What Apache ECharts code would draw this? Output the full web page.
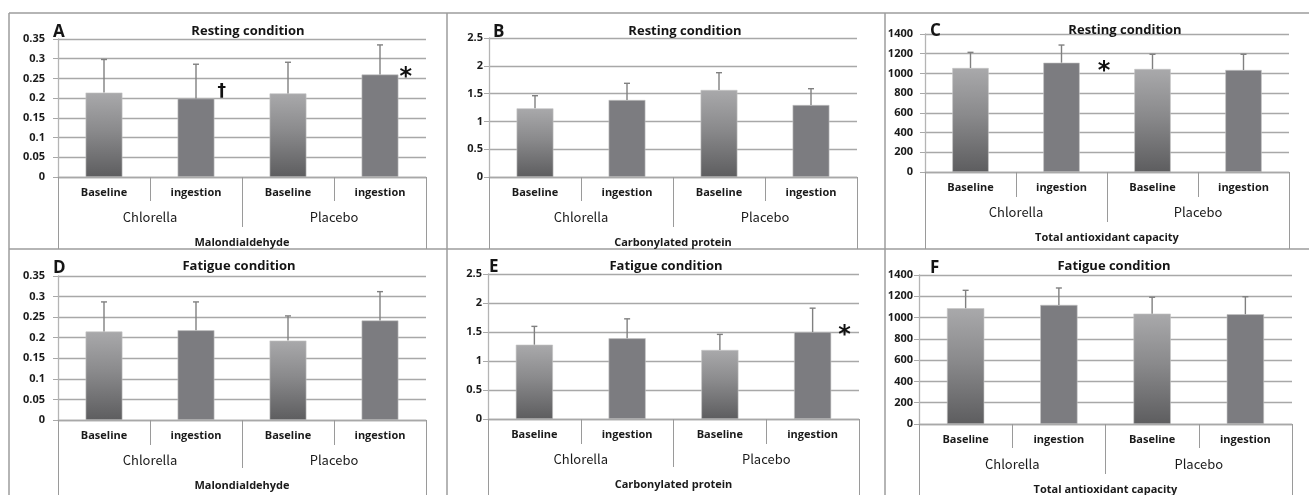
<!DOCTYPE html>
<html><head><meta charset="utf-8">
<script src="https://cdn.jsdelivr.net/npm/echarts@6/dist/echarts.min.js"></script>
<style>html,body{margin:0;padding:0;background:#fff}#c{width:1309px;height:495px}</style>
</head><body><div id="c"></div>
<script>
// ---------- data ----------
const categories = ['Baseline', 'ingestion', 'Baseline', 'ingestion'];
const groups = ['Chlorella', 'Placebo'];
const measures = ['Malondialdehyde', 'Carbonylated protein', 'Total antioxidant capacity'];
const conditions = ['Resting condition', 'Fatigue condition'];
const panelLetters = ['A', 'B', 'C', 'D', 'E', 'F'];

// Resting
const mdaRestMean = [0.214, 0.199, 0.212, 0.260];
const mdaRestSd   = [0.084, 0.087, 0.079, 0.075];
const mdaRestMarks = ['', '†', '', '*'];
const cpRestMean = [1.235, 1.385, 1.565, 1.295];
const cpRestSd   = [0.227, 0.300, 0.311, 0.293];
const cpRestMarks = ['', '', '', ''];
const tacRestMean = [1055, 1109, 1045, 1035];
const tacRestSd   = [159, 179, 149, 159];
const tacRestMarks = ['', '*', '', ''];
// Fatigue
const mdaFatMean = [0.215, 0.218, 0.193, 0.242];
const mdaFatSd   = [0.072, 0.069, 0.060, 0.070];
const mdaFatMarks = ['', '', '', ''];
const cpFatMean = [1.281, 1.391, 1.190, 1.499];
const cpFatSd   = [0.316, 0.336, 0.269, 0.412];
const cpFatMarks = ['', '', '', '*'];
const tacFatMean = [1088, 1119, 1037, 1031];
const tacFatSd   = [168, 159, 154, 165];
const tacFatMarks = ['', '', '', ''];

// y-axis ranges (tick settings)
const mdaAxis = {max: 0.35, step: 0.05};
const cpAxis  = {max: 2.5, step: 0.5};
const tacAxis = {max: 1400, step: 200};

// ---------- layout / styles ----------
const panels = [
  {mean: mdaRestMean, sd: mdaRestSd, marks: mdaRestMarks, m: 0, c: 0, ax: mdaAxis,
   grid: {left: 58, top: 39, width: 368, height: 138}, ticks: [24, 50, 72], ylm: 13,
   title: [248, 31], letter: [53, 32], markOff: [null, [3, -7], null, [1, 3]]},
  {mean: cpRestMean, sd: cpRestSd, marks: cpRestMarks, m: 1, c: 0, ax: cpAxis,
   grid: {left: 489, top: 38, width: 368, height: 139}, ticks: [24, 50, 72], ylm: 6,
   title: [685, 31], letter: [493, 32], markOff: [null, null, null, null]},
  {mean: tacRestMean, sd: tacRestSd, marks: tacRestMarks, m: 2, c: 0, ax: tacAxis,
   grid: {left: 925, top: 34, width: 364, height: 138}, ticks: [25, 50, 77], ylm: 12,
   title: [1125, 30], letter: [930, 31], markOff: [null, [18, 9], null, null]},
  {mean: mdaFatMean, sd: mdaFatSd, marks: mdaFatMarks, m: 0, c: 1, ax: mdaAxis,
   grid: {left: 58, top: 276, width: 368, height: 144}, ticks: [25, 48, 75], ylm: 13,
   title: [239, 266], letter: [53, 268], markOff: [null, null, null, null]},
  {mean: cpFatMean, sd: cpFatSd, marks: cpFatMarks, m: 1, c: 1, ax: cpAxis,
   grid: {left: 488, top: 274, width: 371, height: 145}, ticks: [25, 48, 76], ylm: 6,
   title: [666, 266], letter: [489, 267], markOff: [null, null, null, [7, 4]]},
  {mean: tacFatMean, sd: tacFatSd, marks: tacFatMarks, m: 2, c: 1, ax: tacAxis,
   grid: {left: 919, top: 275, width: 373, height: 149}, ticks: [24, 50, 71], ylm: 6,
   title: [1114, 266], letter: [930, 268], markOff: [null, null, null, null]}
];

const FONT = 'Open Sans';
const baselineFill = {type: 'linear', x: 0, y: 0, x2: 0, y2: 1,
  colorStops: [{offset: 0, color: '#a9a9ab'}, {offset: 0.45, color: '#8a8a8c'}, {offset: 1, color: '#5d5d5f'}]};
const ingestionFill = '#7c7c80';
const gridColor = '#a8a8a8';
const tickColor = '#9a9a9a';

const option = {
  animation: false,
  backgroundColor: '#fff',
  title: [], grid: [], xAxis: [], yAxis: [], series: [],
  graphic: []
};

panels.forEach((p, i) => {
  option.grid.push(Object.assign({containLabel: false}, p.grid));
  option.title.push({
    text: conditions[p.c], left: p.title[0], top: p.title[1] - 9, textAlign: 'center', padding: 0,
    textStyle: {fontFamily: FONT, fontWeight: 'bold', fontSize: 13, color: '#151515', lineHeight: 18}
  });
  option.title.push({
    text: panelLetters[i], left: p.letter[0], top: p.letter[1] - 10, padding: 0,
    textStyle: {fontFamily: FONT, fontWeight: 'bold', fontSize: 17, color: '#151515', lineHeight: 20}
  });
  // category axis
  option.xAxis.push({
    type: 'category', gridIndex: i, data: categories, position: 'bottom',
    axisLine: {show: true, lineStyle: {color: gridColor, width: 1.3}},
    axisTick: {show: true, length: p.ticks[0], lineStyle: {color: tickColor, width: 1}},
    axisLabel: {margin: 10, fontFamily: FONT, fontWeight: 'bold', fontSize: 11, color: '#1a1a1a'},
    splitLine: {show: false}
  });
  // group axis
  option.xAxis.push({
    type: 'category', gridIndex: i, data: groups, position: 'bottom',
    axisLine: {show: false},
    axisTick: {show: true, length: p.ticks[1], lineStyle: {color: tickColor, width: 1}},
    axisLabel: {margin: 34, fontFamily: 'Noto Sans CJK JP', fontSize: 13, color: '#1a1a1a'},
    splitLine: {show: false}
  });
  // measure axis
  option.xAxis.push({
    type: 'category', gridIndex: i, data: [measures[p.m]], position: 'bottom',
    axisLine: {show: false},
    axisTick: {show: true, length: p.ticks[2], lineStyle: {color: tickColor, width: 1}},
    axisLabel: {margin: 60, fontFamily: FONT, fontWeight: 'bold', fontSize: 11, color: '#1a1a1a'},
    splitLine: {show: false}
  });
  option.yAxis.push({
    type: 'value', gridIndex: i, min: 0, max: p.ax.max, interval: p.ax.step,
    axisLine: {show: true, lineStyle: {color: '#b4b4b4', width: 1.3}},
    axisTick: {show: true, length: 5, lineStyle: {color: gridColor}},
    axisLabel: {margin: p.ylm, fontFamily: FONT, fontWeight: 'bold', fontSize: 11, color: '#1a1a1a',
                formatter: v => String(v)},
    splitLine: {show: true, lineStyle: {color: gridColor, width: 1.3}}
  });

  const barData = p.mean.map((v, k) => {
    const item = {value: v, itemStyle: {color: k % 2 === 0 ? baselineFill : ingestionFill}};
    if (p.marks[k]) {
      const dag = p.marks[k] === '†';
      item.label = {
        show: true, formatter: p.marks[k], position: ['100%', 0], align: 'left', verticalAlign: 'middle',
        offset: p.markOff[k], fontFamily: 'DejaVu Sans', fontWeight: 'bold',
        fontSize: dag ? 17 : 24, color: '#111'
      };
    }
    return item;
  });
  option.series.push({
    type: 'bar', xAxisIndex: 3 * i, yAxisIndex: i, data: barData, barWidth: '40%',
    itemStyle: {borderColor: '#c4c4c4', borderWidth: 0.6}, z: 2
  });
  option.series.push({
    type: 'custom', xAxisIndex: 3 * i, yAxisIndex: i, z: 3,
    encode: {x: 0, y: 1},
    data: p.mean.map((v, k) => [k, v, p.sd[k]]),
    renderItem: (params, api) => {
      const x = api.value(0), m = api.value(1), s = api.value(2);
      const p0 = api.coord([x, m]), p1 = api.coord([x, m + s]);
      const st = {stroke: '#808080', lineWidth: 1.4};
      return {type: 'group', children: [
        {type: 'line', shape: {x1: p0[0], y1: p0[1], x2: p1[0], y2: p1[1]}, style: st},
        {type: 'line', shape: {x1: p1[0] - 3, y1: p1[1], x2: p1[0] + 3, y2: p1[1]}, style: st}
      ]};
    }
  });
});

// panel frames
const frame = {stroke: '#9c9c9c', lineWidth: 1.5};
[[9, 13, 1309, 13], [9, 249, 1309, 249], [9, 13, 9, 495], [447, 13, 447, 495], [885, 13, 885, 495]]
  .forEach(s => option.graphic.push({type: 'line', shape: {x1: s[0], y1: s[1], x2: s[2], y2: s[3]}, style: frame, silent: true}));

const chart = echarts.init(document.getElementById('c'), null, {renderer: 'canvas'});
chart.setOption(option);
</script></body></html>
